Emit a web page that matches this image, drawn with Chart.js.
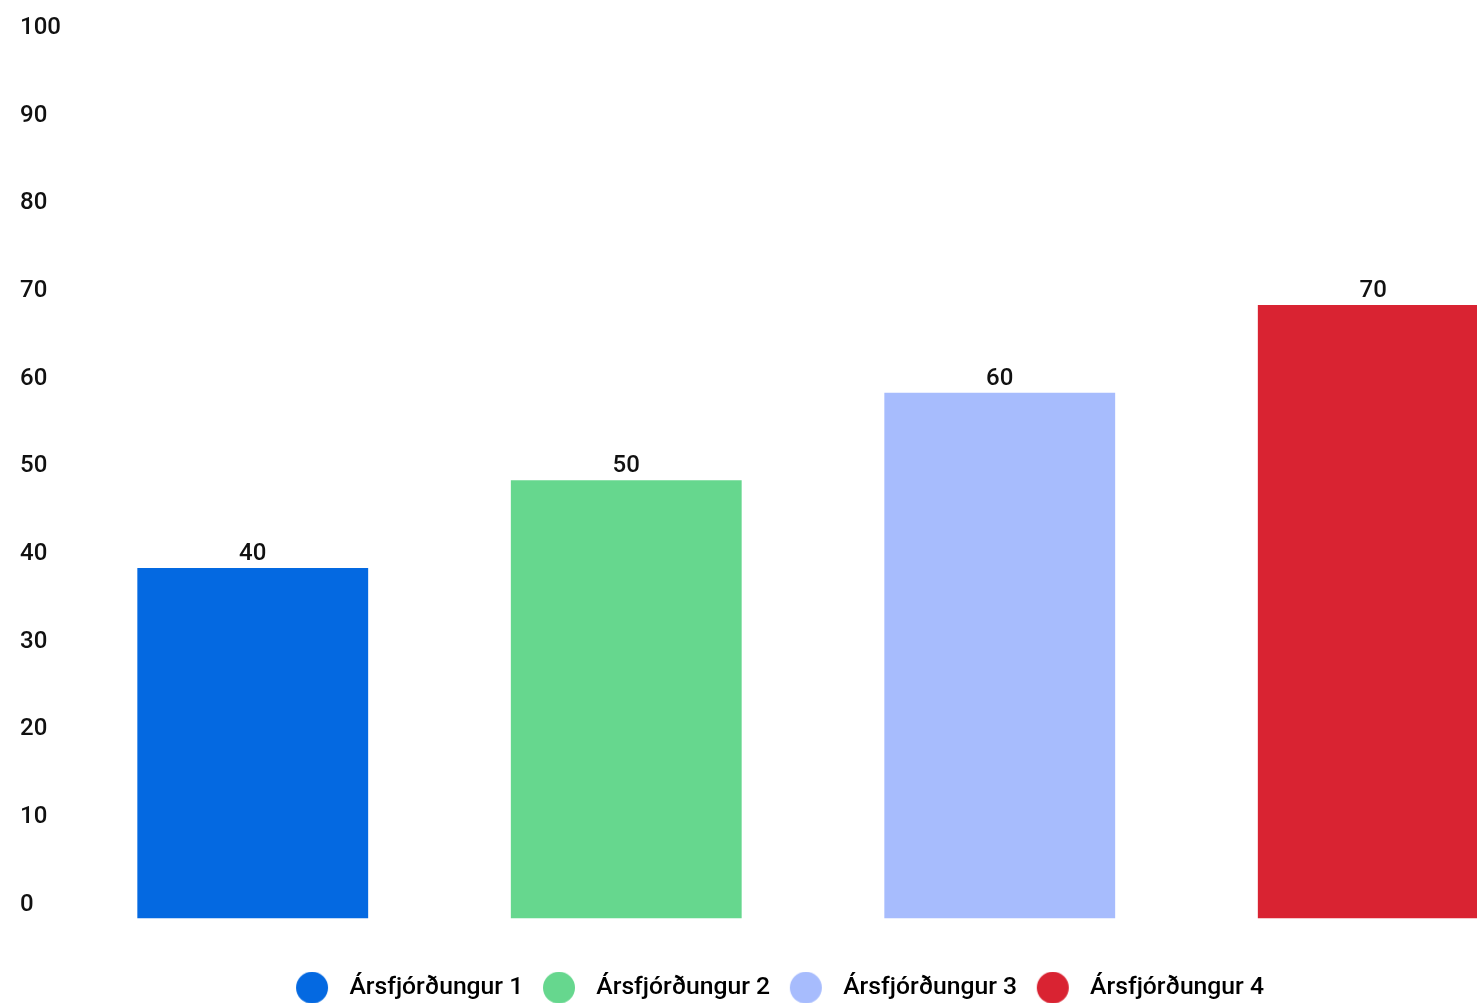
<!DOCTYPE html>
<html>
<head>
<meta charset="utf-8">
<script src="https://cdn.jsdelivr.net/npm/chart.js@4"></script>
<style>
  html, body { margin: 0; padding: 0; background: #fff; overflow: hidden; }
  #wrap { position: relative; width: 1560px; height: 1003px; }
</style>
</head>
<body>
<div id="wrap"><canvas id="c"></canvas></div>
<script>
const categories = ['Ársfjórðungur 1', 'Ársfjórðungur 2', 'Ársfjórðungur 3', 'Ársfjórðungur 4'];
const values = [40, 50, 60, 70];
const colors = ['#0469E1', '#66D78E', '#A7BCFD', '#D92332'];
const yTicks = [0, 10, 20, 30, 40, 50, 60, 70, 80, 90, 100];

const FONT = 'Roboto';
const WEIGHT = 500;

function dot(color) {
  const cv = document.createElement('canvas');
  cv.width = 50; cv.height = 32;
  const g = cv.getContext('2d');
  g.fillStyle = color;
  g.beginPath();
  g.arc(25, 16, 16, 0, Math.PI * 2);
  g.fill();
  return cv;
}

const valueLabels = {
  id: 'valueLabels',
  afterDatasetsDraw(chart) {
    const ctx = chart.ctx;
    const meta = chart.getDatasetMeta(0);
    ctx.save();
    ctx.font = WEIGHT + ' 24px ' + FONT;
    ctx.fillStyle = '#111';
    ctx.textAlign = 'center';
    ctx.textBaseline = 'bottom';
    meta.data.forEach((bar, i) => {
      ctx.fillText(String(values[i]), bar.x, bar.y - 2);
    });
    ctx.restore();
  }
};

const legendShift = {
  id: 'legendShift',
  afterLayout(chart) {
    const lg = chart.legend;
    if (lg) { lg.left -= 14.5; lg.right -= 14.5; }
  }
};

new Chart(document.getElementById('c'), {
  type: 'bar',
  data: {
    labels: categories,
    datasets: [{
      label: 'Value',
      data: values,
      backgroundColor: colors,
      borderWidth: 0,
      categoryPercentage: 1,
      barPercentage: 0.618
    }]
  },
  options: {
    responsive: true,
    maintainAspectRatio: false,
    animation: false,
    layout: { padding: { left: 20, right: 0, top: 42, bottom: -7 } },
    scales: {
      x: {
        display: true,
        grid: { display: false },
        border: { display: false },
        ticks: { display: false },
        afterFit(axis) { axis.height = 46; }
      },
      y: {
        min: 0, max: 100,
        afterBuildTicks(axis) { axis.ticks = yTicks.map(v => ({ value: v })); },
        afterFit(axis) { axis.width = 46; },
        grid: { display: false },
        border: { display: false },
        ticks: {
          crossAlign: 'far',
          labelOffset: -14,
          padding: 0,
          color: '#111',
          font: { family: FONT, size: 24, weight: WEIGHT }
        }
      }
    },
    plugins: {
      tooltip: { enabled: false },
      legend: {
        position: 'bottom',
        labels: {
          usePointStyle: true,
          pointStyleWidth: 50,
          boxHeight: 24,
          padding: 10.7,
          color: '#111',
          font: { family: FONT, size: 24.7, weight: WEIGHT },
          generateLabels() {
            return categories.map((c, i) => ({
              text: c,
              fillStyle: colors[i],
              strokeStyle: colors[i],
              lineWidth: 0,
              pointStyle: dot(colors[i]),
              hidden: false,
              index: i,
              datasetIndex: 0
            }));
          }
        }
      }
    }
  },
  plugins: [valueLabels, legendShift]
});
</script>
</body>
</html>
